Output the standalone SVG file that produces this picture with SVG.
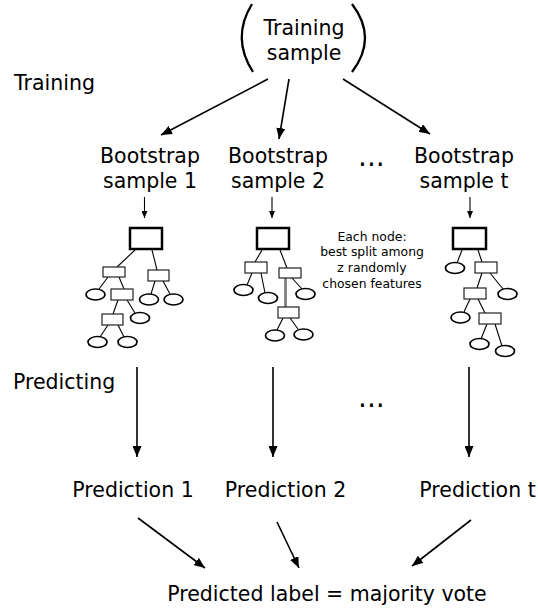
<svg xmlns="http://www.w3.org/2000/svg" width="538" height="610" viewBox="0 0 538 610">
<defs>
<style>
text{font-family:"DejaVu Sans","Liberation Sans",sans-serif;fill:#000}
.t{font-size:20.5px}
.c{text-anchor:middle}
.s{font-size:12.4px;text-anchor:middle}
.dots{font-size:28px}
.root{fill:#fff;stroke:#000;stroke-width:2.5}
.sub{fill:#fff;stroke:#222;stroke-width:1.2}
.leaf{fill:#fff;stroke:#000;stroke-width:1.7}
.edge{stroke:#000;stroke-width:1.1;fill:none}
.arr{stroke:#000;stroke-width:1.6;fill:none;marker-end:url(#ah)}
.sarr{stroke:#000;stroke-width:1.1;fill:none;marker-end:url(#sh)}
.par{stroke:#000;stroke-width:2.3;fill:none}
</style>
<marker id="ah" markerUnits="userSpaceOnUse" markerWidth="12" markerHeight="9" refX="11" refY="4.5" orient="auto">
<path d="M0,0 L11,4.5 L0,9 z" fill="#000"/>
</marker>
<marker id="sh" markerUnits="userSpaceOnUse" markerWidth="8" markerHeight="6" refX="7" refY="3" orient="auto">
<path d="M0,0 L7,3 L0,6 z" fill="#000"/>
</marker>
</defs>
<rect width="538" height="610" fill="#fff"/>

<g id="label-training"><text class="t" x="14" y="90">Training</text></g>
<g id="label-predicting"><text class="t" x="13" y="389">Predicting</text></g>

<g id="training-sample">
<path class="par" d="M252,4 Q231,38 253,72"/>
<path class="par" d="M352,4 Q378,38 352,72"/>
<text class="t c" x="304" y="35">Training</text>
<text class="t c" x="304" y="60">sample</text>
</g>

<g id="bootstrap-1"><text class="t c" x="150" y="163">Bootstrap</text><text class="t c" x="150" y="187.5">sample 1</text></g>
<g id="bootstrap-2"><text class="t c" x="278" y="163">Bootstrap</text><text class="t c" x="278" y="187.5">sample 2</text></g>
<g id="bootstrap-t"><text class="t c" x="464" y="163">Bootstrap</text><text class="t c" x="464" y="187.5">sample t</text></g>
<g id="ellipsis-top"><text class="dots" x="358" y="166">...</text></g>
<g id="ellipsis-bottom"><text class="dots" x="358" y="407">...</text></g>

<g id="tree-1">
<g class="edge">
<line x1="135" y1="250" x2="117" y2="267"/>
<line x1="152" y1="250" x2="157" y2="270"/>
<line x1="108" y1="277" x2="99" y2="289"/>
<line x1="119" y1="277" x2="124" y2="289"/>
<line x1="127" y1="300" x2="135" y2="313"/>
<line x1="118" y1="300" x2="113" y2="314"/>
<line x1="108" y1="325" x2="100" y2="337"/>
<line x1="118" y1="325" x2="124" y2="337"/>
<line x1="155" y1="281" x2="151" y2="294"/>
<line x1="163" y1="281" x2="170" y2="294"/>
</g>
<rect class="root" x="130" y="228" width="32" height="21"/>
<rect class="sub" x="103" y="267" width="22" height="10"/>
<rect class="sub" x="148" y="270" width="21" height="11"/>
<rect class="sub" x="111" y="289" width="22" height="11"/>
<rect class="sub" x="102" y="314" width="21" height="11"/>
<ellipse class="leaf" cx="95.5" cy="294.5" rx="9.5" ry="5.5"/>
<ellipse class="leaf" cx="149" cy="299.5" rx="9.5" ry="5.5"/>
<ellipse class="leaf" cx="173.5" cy="299.5" rx="9.5" ry="5.5"/>
<ellipse class="leaf" cx="140" cy="318" rx="9.5" ry="5.5"/>
<ellipse class="leaf" cx="97.5" cy="342" rx="9.5" ry="5.5"/>
<ellipse class="leaf" cx="127.5" cy="342" rx="9.5" ry="5.5"/>
</g>

<g id="tree-2">
<g class="edge">
<line x1="262" y1="250" x2="255" y2="262"/>
<line x1="280" y1="250" x2="287" y2="268"/>
<line x1="252" y1="273" x2="247" y2="285"/>
<line x1="261" y1="273" x2="265" y2="293"/>
<line x1="292" y1="278" x2="302" y2="289"/>
<line x1="283" y1="318" x2="277" y2="330"/>
<line x1="290" y1="318" x2="298" y2="329"/>
</g>
<line x1="285.5" y1="278" x2="285.5" y2="307" stroke="#777" stroke-width="2.6"/>
<rect class="root" x="257" y="228" width="32" height="21"/>
<rect class="sub" x="245" y="262" width="22" height="11"/>
<rect class="sub" x="279" y="268" width="22" height="10"/>
<rect class="sub" x="278" y="307" width="21" height="11"/>
<ellipse class="leaf" cx="243.5" cy="290" rx="9.5" ry="5.5"/>
<ellipse class="leaf" cx="268" cy="298" rx="9.5" ry="5.5"/>
<ellipse class="leaf" cx="305.5" cy="294" rx="9.5" ry="5.5"/>
<ellipse class="leaf" cx="275" cy="335.5" rx="9.5" ry="5.5"/>
<ellipse class="leaf" cx="303.5" cy="334.5" rx="9.5" ry="5.5"/>
</g>

<g id="tree-t">
<g class="edge">
<line x1="462" y1="250" x2="457" y2="263"/>
<line x1="478" y1="250" x2="482" y2="262"/>
<line x1="482" y1="273" x2="477" y2="288"/>
<line x1="490" y1="273" x2="503" y2="289"/>
<line x1="470" y1="299" x2="464" y2="312"/>
<line x1="478" y1="299" x2="485" y2="313"/>
<line x1="487" y1="324" x2="481" y2="339"/>
<line x1="495" y1="324" x2="502" y2="346"/>
</g>
<rect class="root" x="453" y="228" width="33" height="21"/>
<rect class="sub" x="475" y="262" width="22" height="11"/>
<rect class="sub" x="464" y="288" width="22" height="11"/>
<rect class="sub" x="479" y="313" width="22" height="11"/>
<ellipse class="leaf" cx="455" cy="268" rx="9.5" ry="5.5"/>
<ellipse class="leaf" cx="507.5" cy="294" rx="9.5" ry="5.5"/>
<ellipse class="leaf" cx="460.5" cy="317.5" rx="9.5" ry="5.5"/>
<ellipse class="leaf" cx="479.5" cy="344" rx="9.5" ry="5.5"/>
<ellipse class="leaf" cx="505" cy="351" rx="9.5" ry="5.5"/>
</g>

<g id="note">
<text class="s" x="372" y="240.5">Each node:</text>
<text class="s" x="372" y="256.3">best split among</text>
<text class="s" x="372" y="272">z randomly</text>
<text class="s" x="372" y="288">chosen features</text>
</g>

<g id="prediction-1"><text class="t c" x="133" y="497">Prediction 1</text></g>
<g id="prediction-2"><text class="t c" x="285.5" y="497">Prediction 2</text></g>
<g id="prediction-t"><text class="t c" x="477.5" y="497">Prediction t</text></g>
<g id="majority-vote"><text class="t c" x="327" y="601">Predicted label = majority vote</text></g>

<g id="connectors">
<line class="arr" x1="268" y1="79" x2="161" y2="135"/>
<line class="arr" x1="289" y1="79" x2="279" y2="139"/>
<line class="arr" x1="343" y1="79" x2="430" y2="134"/>
<line class="sarr" x1="144.5" y1="197" x2="144.5" y2="218"/>
<line class="sarr" x1="272" y1="197" x2="272" y2="218"/>
<line class="sarr" x1="470" y1="197" x2="470" y2="218"/>
<line class="arr" x1="137" y1="367" x2="137" y2="457"/>
<line class="arr" x1="273" y1="367" x2="273" y2="457"/>
<line class="arr" x1="469" y1="367" x2="469" y2="457"/>
<line class="arr" x1="138" y1="518" x2="205" y2="568"/>
<line class="arr" x1="277" y1="522" x2="299" y2="568"/>
<line class="arr" x1="471" y1="520" x2="412" y2="566"/>
</g>
</svg>
